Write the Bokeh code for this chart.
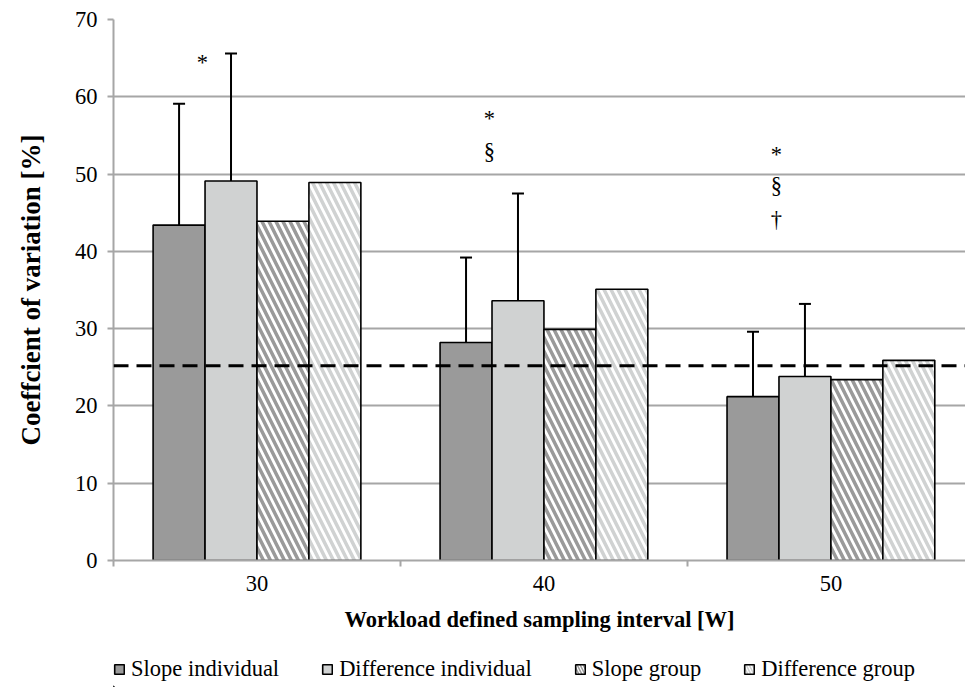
from bokeh.plotting import figure
from bokeh.layouts import column
from bokeh.models import (ColumnDataSource, Span, FixedTicker, Whisker, TeeHead,
                          Legend, LegendItem, Range1d)
from bokeh.core.properties import value
from bokeh.embed import file_html
from bokeh.resources import INLINE

# ---------------- data ----------------
categories = ["30", "40", "50"]
slope_individual = [43.4, 28.2, 21.2]
slope_individual_sd = [15.7, 11.0, 8.4]
difference_individual = [49.1, 33.6, 23.8]
difference_individual_sd = [16.5, 13.9, 9.4]
slope_group = [43.9, 29.9, 23.4]
difference_group = [48.9, 35.1, 25.9]
threshold = 25.2
y_ticks = [0, 10, 20, 30, 40, 50, 60, 70]
annot_category = ["30", "40", "40", "50", "50", "50"]
annot_symbol = ["*", "*", "§", "*", "§", "†"]
annot_y = [64.4, 57.2, 52.9, 52.5, 48.5, 44.1]
series_names = ["Slope individual", "Difference individual", "Slope group", "Difference group"]

# ---------------- styles ----------------
FONT = "Liberation Serif"
DARK = "#9a9a9a"
LIGHT = "#d0d2d2"
GRID = "#a6a6a6"
BAR_W = 0.181
ANNOT_DX = -0.19
TXT = "22.5px"

centers = [i + 0.5 for i in range(len(categories))]

p = figure(width=965, height=650, frame_width=852, frame_height=541,
           output_backend="svg", toolbar_location=None,
           x_range=Range1d(0, 2.969), y_range=Range1d(0, 70),
           min_border_left=113, min_border_right=0, min_border_top=19,
           min_border_bottom=90, background_fill_color="white",
           border_fill_color="white", outline_line_color=None)

# legend-only strip
lf = figure(width=965, height=37, output_backend="svg", toolbar_location=None,
            x_range=Range1d(0, 965), y_range=Range1d(0, 37),
            x_axis_type=None, y_axis_type=None,
            min_border=0, outline_line_color=None,
            background_fill_color="white", border_fill_color="white")
lf.grid.visible = False

series = [
    (slope_individual, slope_individual_sd, DARK, None, None),
    (difference_individual, difference_individual_sd, LIGHT, None, None),
    (slope_group, None, "white", "left_diagonal_line", DARK),
    (difference_group, None, "white", "left_diagonal_line", LIGHT),
]

items = []
for k, (name, (vals, sd, fill, hatch, hcol)) in enumerate(zip(series_names, series)):
    xs = [c + (k - 1.5) * BAR_W for c in centers]
    src = ColumnDataSource(dict(x=xs, top=vals))
    style = dict(fill_color=fill, line_color="black", line_width=1.6)
    if hatch:
        style.update(hatch_pattern=hatch, hatch_color=hcol, hatch_scale=14, hatch_weight=3.5)
    p.vbar(x="x", top="top", bottom=0, width=BAR_W, source=src, **style)
    # legend proxy (placed outside the strip's visible range)
    lstyle = dict(style)
    if hatch:
        lstyle.update(hatch_scale=6, hatch_weight=1.5)
    lr = lf.vbar(x=[-100], top=[1], bottom=0, width=1, **lstyle)
    items.append(LegendItem(label=name, renderers=[lr]))
    if sd is not None:
        esrc = ColumnDataSource(dict(x=xs, lower=vals, upper=[v + s for v, s in zip(vals, sd)]))
        w = Whisker(base="x", lower="lower", upper="upper", source=esrc,
                    line_color="black", line_width=2,
                    upper_head=TeeHead(size=12, line_color="black", line_width=2),
                    lower_head=None)
        p.add_layout(w)

p.add_layout(Span(location=threshold, dimension="width", line_color="black",
                  line_width=3, line_dash="15 8"))

ax_idx = {c: i for i, c in enumerate(categories)}
asrc = ColumnDataSource(dict(x=[centers[ax_idx[c]] + ANNOT_DX for c in annot_category],
                             y=annot_y, t=annot_symbol))
p.text(x="x", y="y", text="t", source=asrc, text_font=value(FONT),
       text_font_size=TXT, text_align="center", text_baseline="middle",
       text_color="black")

# axes
p.xgrid.grid_line_color = None
p.ygrid.grid_line_color = GRID
p.ygrid.grid_line_width = 2
p.ygrid.ticker = FixedTicker(ticks=y_ticks)

p.yaxis.ticker = FixedTicker(ticks=y_ticks)
p.yaxis.axis_line_color = GRID
p.yaxis.axis_line_width = 2
p.yaxis.major_tick_line_color = GRID
p.yaxis.major_tick_line_width = 2
p.yaxis.major_tick_out = 6
p.yaxis.major_tick_in = 0
p.yaxis.minor_tick_line_color = None
p.yaxis.major_label_text_font = FONT
p.yaxis.major_label_text_font_size = TXT
p.yaxis.major_label_text_color = "black"
p.yaxis.major_label_standoff = 10
p.yaxis.axis_label = "Coeffcient of variation [%]"
p.yaxis.axis_label_text_font = FONT
p.yaxis.axis_label_text_font_style = "bold"
p.yaxis.axis_label_text_font_size = "27px"
p.yaxis.axis_label_text_color = "black"
p.yaxis.axis_label_standoff = 26

p.xaxis.ticker = FixedTicker(ticks=centers, minor_ticks=[0, 1, 2, 3])
p.xaxis.major_label_overrides = {c: lab for c, lab in zip(centers, categories)}
p.xaxis.axis_line_color = GRID
p.xaxis.axis_line_width = 2
p.xaxis.major_tick_line_color = None
p.xaxis.minor_tick_line_color = GRID
p.xaxis.minor_tick_line_width = 2
p.xaxis.minor_tick_out = 6
p.xaxis.minor_tick_in = 0
p.xaxis.major_label_text_font = FONT
p.xaxis.major_label_text_font_size = TXT
p.xaxis.major_label_text_color = "black"
p.xaxis.major_label_standoff = 9
p.xaxis.axis_label = "Workload defined sampling interval [W]"
p.xaxis.axis_label_text_font = FONT
p.xaxis.axis_label_text_font_style = "bold"
p.xaxis.axis_label_text_font_size = TXT
p.xaxis.axis_label_text_color = "black"
p.xaxis.axis_label_standoff = 13

legend = Legend(items=items, orientation="horizontal", location=(0, 5),
                label_text_font=FONT, label_text_font_size=TXT,
                label_text_color="black",
                glyph_width=12, glyph_height=12, label_standoff=6, spacing=42,
                border_line_color=None, background_fill_alpha=0,
                padding=0, margin=0)
lf.add_layout(legend, "center")

layout = column(p, lf, spacing=0)
open("out.html", "w").write(file_html(layout, INLINE))
